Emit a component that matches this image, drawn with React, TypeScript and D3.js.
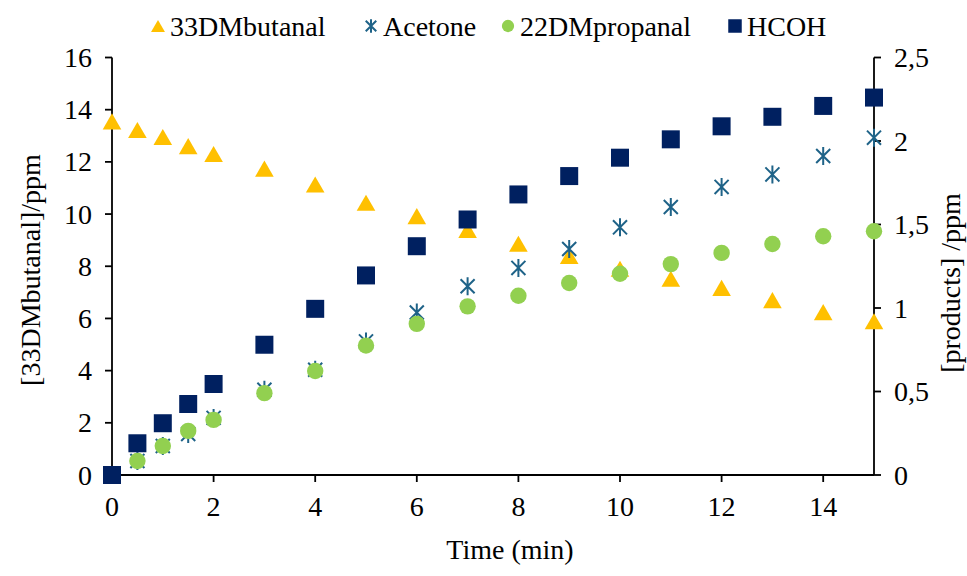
import * as d3 from 'd3'

// time points (min)
const TIMES = [0, 0.5, 1, 1.5, 2, 3, 4, 5, 6, 7, 8, 9, 10, 11, 12, 13, 14, 15]

// left axis: [33DMbutanal]/ppm
const BUTANAL = [13.45, 13.12, 12.85, 12.5, 12.2, 11.64, 11.03, 10.33, 9.82, 9.29, 8.76, 8.29, 7.8, 7.42, 7.07, 6.6, 6.14, 5.79]

// right axis: [products] /ppm
const ACETONE = [0, 0.084, 0.174, 0.246, 0.342, 0.51, 0.63, 0.8, 0.973, 1.13, 1.24, 1.353, 1.483, 1.605, 1.725, 1.8, 1.91, 2.02]
const PROPANAL = [0, 0.084, 0.174, 0.264, 0.33, 0.49, 0.623, 0.775, 0.905, 1.01, 1.073, 1.15, 1.205, 1.263, 1.33, 1.383, 1.43, 1.46]
const HCOH = [0, 0.19, 0.31, 0.425, 0.545, 0.78, 0.995, 1.195, 1.37, 1.53, 1.68, 1.79, 1.9, 2.01, 2.088, 2.145, 2.21, 2.26]

const X_TICKS = [0, 2, 4, 6, 8, 10, 12, 14]
const LEFT_TICKS = [0, 2, 4, 6, 8, 10, 12, 14, 16]
const RIGHT_TICKS = [0, 0.5, 1, 1.5, 2, 2.5]

const LEGEND = [
  { name: '33DMbutanal', kind: 'triangle' },
  { name: 'Acetone', kind: 'star' },
  { name: '22DMpropanal', kind: 'circle' },
  { name: 'HCOH', kind: 'square' },
]

const C = {
  triangle: '#FFC000',
  star: '#1F6388',
  circle: '#92D050',
  square: '#002060',
}

const FF = "'Liberation Serif', 'Times New Roman', 'DejaVu Serif', serif"
const FS = 28
const W = 967
const H = 576
const M = { left: 112, right: 874, top: 57.5, bottom: 475 }

const fmt = (v: number) => String(v).replace('.', ',')

const triPath = d3.symbol(d3.symbolTriangle, 150)()
const sqPath = (s: number) => `M${-s / 2},${-s / 2}h${s}v${s}h${-s}Z`
const starPath = (r: number) => {
  const d = r * 0.78
  return `M${-d},${-d}L${d},${d}M${-d},${d}L${d},${-d}M0,${-r}L0,${r}`
}

function Marker({ kind, x, y, scale = 1 }: { kind: string; x: number; y: number; scale?: number }) {
  const t = `translate(${x},${y}) scale(${scale})`
  if (kind === 'triangle') return <path transform={t} d={triPath ?? ''} fill={C.triangle} />
  if (kind === 'circle') return <circle transform={t} r={8.2} fill={C.circle} />
  if (kind === 'square') return <path transform={t} d={sqPath(18)} fill={C.square} />
  return <path transform={t} d={starPath(9)} stroke={C.star} strokeWidth={2 / scale} fill="none" />
}

function Label({ children, ...rest }: any) {
  return <text fontSize={FS} fontFamily={FF} style={{ fontFamily: FF }} {...rest}>{children}</text>
}

export default function App() {
  const x = d3.scaleLinear().domain([0, 15]).range([M.left, M.right])
  const yL = d3.scaleLinear().domain([0, 16]).range([M.bottom, M.top])
  const yR = d3.scaleLinear().domain([0, 2.5]).range([M.bottom, M.top])

  const legendX = [158, 371, 508, 735]

  return (
    <div style={{ position: 'absolute', left: 0, top: 0, width: W, height: H, fontFamily: FF, overflow: 'hidden' }}>
      <svg width={W} height={H} style={{ display: 'block', fontFamily: FF }}>
        {/* Legend */}
        {LEGEND.map((l, i) => (
          <g key={l.name}>
            <Marker kind={l.kind} x={legendX[i]} y={l.kind === 'triangle' ? 28 : 26} scale={0.75} />
            <Label x={legendX[i] + 12} y={36}>{l.name}</Label>
          </g>
        ))}

        {/* Axes */}
        <g stroke="#000" strokeWidth={1.8} fill="none">
          <line x1={M.left} y1={M.top} x2={M.left} y2={M.bottom} />
          <line x1={M.right} y1={M.top} x2={M.right} y2={M.bottom} />
          <line x1={M.left} y1={M.bottom} x2={M.right} y2={M.bottom} />
          {LEFT_TICKS.map(v => <line key={'l' + v} x1={M.left - 7} x2={M.left} y1={yL(v)} y2={yL(v)} />)}
          {RIGHT_TICKS.map(v => <line key={'r' + v} x1={M.right} x2={M.right + 7} y1={yR(v)} y2={yR(v)} />)}
          {X_TICKS.map(v => <line key={'x' + v} x1={x(v)} x2={x(v)} y1={M.bottom} y2={M.bottom + 7} />)}
        </g>

        {/* Tick labels */}
        {LEFT_TICKS.map(v => (
          <Label key={'lt' + v} x={M.left - 20} y={yL(v) + 9.5} textAnchor="end">{v}</Label>
        ))}
        {RIGHT_TICKS.map(v => (
          <Label key={'rt' + v} x={M.right + 20} y={yR(v) + 9.5}>{fmt(v)}</Label>
        ))}
        {X_TICKS.map(v => (
          <Label key={'xt' + v} x={x(v)} y={516} textAnchor="middle">{v}</Label>
        ))}

        {/* Axis titles */}
        <Label x={510} y={559} textAnchor="middle">Time (min)</Label>
        <Label transform="translate(40,270) rotate(-90)" textAnchor="middle">[33DMbutanal]/ppm</Label>
        <Label transform="translate(960,283) rotate(-90)" textAnchor="middle">[products] /ppm</Label>

        {/* Data */}
        {TIMES.map((t, i) => <Marker key={'b' + i} kind="triangle" x={x(t)} y={yL(BUTANAL[i])} />)}
        {TIMES.map((t, i) => <Marker key={'a' + i} kind="star" x={x(t)} y={yR(ACETONE[i])} />)}
        {TIMES.map((t, i) => <Marker key={'p' + i} kind="circle" x={x(t)} y={yR(PROPANAL[i])} />)}
        {TIMES.map((t, i) => <Marker key={'h' + i} kind="square" x={x(t)} y={yR(HCOH[i])} />)}
      </svg>
    </div>
  )
}
